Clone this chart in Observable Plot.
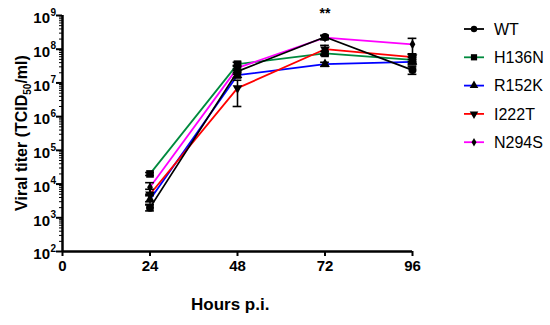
<!DOCTYPE html>
<html><head><meta charset="utf-8">
<script src="https://cdn.jsdelivr.net/npm/d3@7"></script>
<script src="https://cdn.jsdelivr.net/npm/@observablehq/plot@0.6"></script>
<style>body{margin:0;background:#fff;font-family:Arial,"Liberation Sans",sans-serif}</style>
</head><body><div id="chart"></div>
<script>
// ---- data ----
const times = [24, 48, 72, 96];
const xTicks = [0, 24, 48, 72, 96];
const yExponents = [2, 3, 4, 5, 6, 7, 8, 9];
const seriesNames = ["WT", "H136N", "R152K", "I222T", "N294S"];
const wt     = [2.0e3, 2.2e7, 2.3e8, 2.4e7];
const h136n  = [2.0e4, 3.6e7, 7.5e7, 4.8e7];
const r152k  = [3.5e3, 1.7e7, 3.6e7, 4.2e7];
const i222t  = [5.0e3, 7.0e6, 1.0e8, 5.8e7];
const n294s  = [8.0e3, 2.8e7, 2.2e8, 1.4e8];
const wtSd    = [4e2, 4e6, 3e7, 6e6];
const h136nSd = [2e3, 5e6, 1e7, 1e7];
const r152kSd = [1e3, 3e6, 5e6, 8e6];
const i222tSd = [2e3, 5e6, 3e7, 1.5e7];
const n294sSd = [3e3, 5e6, 3e7, 7e7];
const significance = [{t: 72, label: "**"}];

const colors = {WT: "#000000", H136N: "#008a3e", R152K: "#0000ff", I222T: "#ff0000", N294S: "#ff00ff"};
const invTriangle = {
  draw(context, size) {
    const y = -Math.sqrt(size / (Math.sqrt(3) * 3));
    const s3 = Math.sqrt(3);
    context.moveTo(0, -y * 2);
    context.lineTo(-s3 * y, y);
    context.lineTo(s3 * y, y);
    context.closePath();
  }
};
const symbols = {WT: d3.symbolCircle, H136N: d3.symbolSquare, R152K: d3.symbolTriangle, I222T: invTriangle, N294S: d3.symbolDiamond};
const radius = {WT: 4, H136N: 4.3, R152K: 3.6, I222T: 3.6, N294S: 3};
const legendRadius = {WT: 3.2, H136N: 3.5, R152K: 3.2, I222T: 3.2, N294S: 2.6};
const valuesBy = {WT: wt, H136N: h136n, R152K: r152k, I222T: i222t, N294S: n294s};
const sdBy = {WT: wtSd, H136N: h136nSd, R152K: r152kSd, I222T: i222tSd, N294S: n294sSd};

const rows = [];
for (const s of seriesNames) times.forEach((t, i) => rows.push({series: s, t, v: valuesBy[s][i], sd: sdBy[s][i]}));

const minorTicks = [];
for (let e = 2; e < 9; e++) for (let m = 2; m <= 9; m++) minorTicks.push(m * 10 ** e);
const decades = yExponents.map(e => 10 ** e);

const drawOrder = ["H136N", "R152K", "I222T", "N294S", "WT"];
const marks = [];
for (const s of drawOrder) {
  marks.push(Plot.line(rows.filter(d => d.series === s), {x: "t", y: "v", stroke: colors[s], strokeWidth: 1.8}));
}
// error bars
marks.push(Plot.ruleX(rows, {x: "t", y1: d => d.v - d.sd, y2: d => d.v + d.sd, stroke: "black", strokeWidth: 1.6}));
marks.push(Plot.ruleY(rows, {y: d => d.v + d.sd, x1: d => d.t - 1.2, x2: d => d.t + 1.2, stroke: "black", strokeWidth: 1.6}));
marks.push(Plot.ruleY(rows, {y: d => d.v - d.sd, x1: d => d.t - 1.2, x2: d => d.t + 1.2, stroke: "black", strokeWidth: 1.6}));
for (const s of drawOrder) {
  marks.push(Plot.dot(rows.filter(d => d.series === s), {x: "t", y: "v", symbol: symbols[s], r: radius[s], fill: "black", stroke: "none"}));
}

const chart = Plot.plot({
  width: 550, height: 325,
  marginLeft: 62, marginRight: 138, marginTop: 15, marginBottom: 74,
  style: {fontFamily: "Arial, 'Liberation Sans', sans-serif", background: "white", overflow: "visible"},
  x: {domain: [0, 96]},
  y: {type: "log", domain: [1e2, 1e9]},
  marks: [
    Plot.axisY({ticks: minorTicks, tickSize: 3, strokeWidth: 1, tickFormat: () => "", label: null}),
    Plot.axisY({ticks: decades, tickSize: 6, strokeWidth: 2, tickFormat: () => "", label: null}),
    Plot.text(decades, {x: 0, y: d => d, text: () => "10", dx: -12.5, dy: 3, textAnchor: "end", fontSize: 15, fontWeight: "bold", fill: "black"}),
    Plot.text(decades, {x: 0, y: d => d, text: d => String(Math.round(Math.log10(d))), dx: -12, dy: -3, textAnchor: "start", fontSize: 10, fontWeight: "bold", fill: "black"}),
    Plot.axisX({ticks: xTicks, tickSize: 5, strokeWidth: 2, tickPadding: 4, fontSize: 15, fontWeight: "bold", label: null, tickFormat: d => String(d)}),
    Plot.ruleX([0], {y1: 1e2, y2: 1e9, stroke: "black", strokeWidth: 2.5}),
    Plot.ruleY([1e2], {x1: 0, x2: 96, stroke: "black", strokeWidth: 2.5}),
    ...marks,
    Plot.text(significance, {x: "t", text: "label", frameAnchor: "top", dy: -7, fontSize: 14, fontWeight: "bold", fill: "black"}),
    Plot.text(["Hours p.i."], {x: 46, frameAnchor: "bottom", dy: 58, text: d => d, fontSize: 17, fontWeight: "bold", fill: "black"})
  ]
});
document.getElementById("chart").appendChild(chart);

const svg = d3.select(chart);
// y label with subscript
const yl = svg.append("text")
  .attr("transform", "translate(27,133) rotate(-90)")
  .attr("text-anchor", "middle")
  .attr("font-size", 16).attr("font-weight", "bold").attr("fill", "black");
yl.append("tspan").text("Viral titer (TCID");
yl.append("tspan").attr("font-size", 10).attr("dy", 4).text("50");
yl.append("tspan").attr("dy", -4).text("/ml)");

// legend
const lg = svg.append("g").attr("font-size", 16).attr("fill", "black").attr("text-anchor", "start");
seriesNames.forEach((s, i) => {
  const y = 29 + i * 28.3;
  lg.append("line").attr("x1", 464).attr("x2", 484).attr("y1", y).attr("y2", y).attr("stroke", colors[s]).attr("stroke-width", 1.8);
  lg.append("path").attr("transform", `translate(474,${y})`).attr("d", d3.symbol(symbols[s], Math.PI * legendRadius[s] ** 2)()).attr("fill", "black");
  lg.append("text").attr("x", 494).attr("y", y).attr("dy", "0.36em").attr("text-anchor", "start").text(s);
});
</script></body></html>
